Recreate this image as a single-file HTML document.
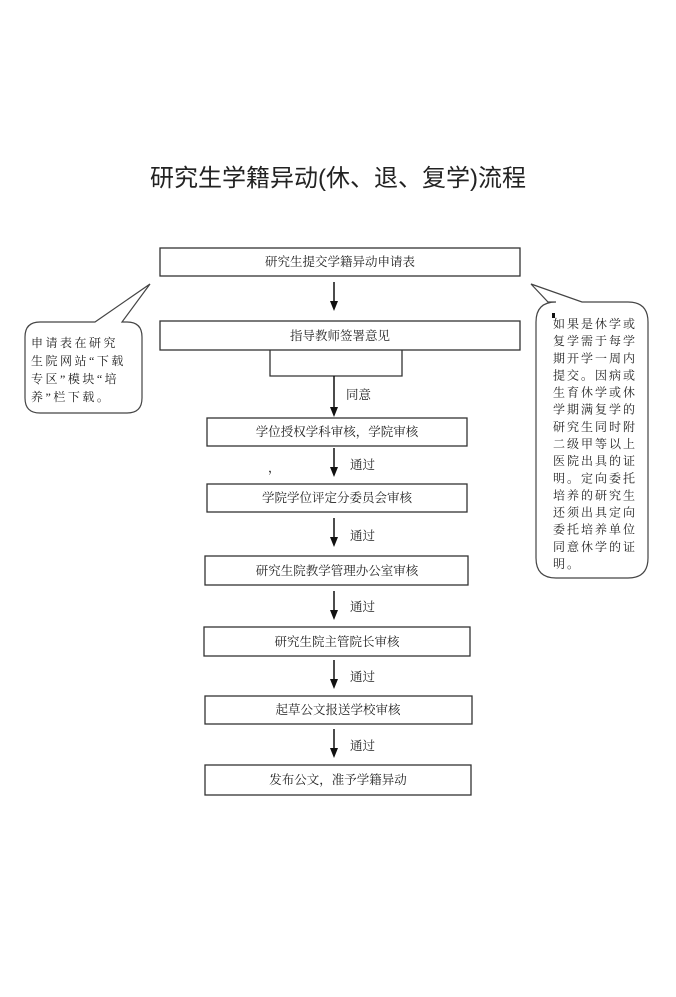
<!DOCTYPE html>
<html><head><meta charset="utf-8"><style>
html,body{margin:0;padding:0;background:#fff;}
svg text{font-family:"Liberation Serif","Noto Serif CJK SC","Noto Sans CJK SC",serif;fill:#222;}
</style></head><body>
<svg width="676" height="992" viewBox="0 0 676 992" xmlns="http://www.w3.org/2000/svg">
<text x="338" y="186" text-anchor="middle" font-size="24" style="font-family:'Liberation Sans','Noto Sans CJK SC',sans-serif" fill="#000">研究生学籍异动(休、退、复学)流程</text>
<g fill="none" stroke="#333" stroke-width="1.3">
<rect x="160" y="248" width="360" height="28"/>
<rect x="160" y="321" width="360" height="29"/>
<polyline points="270,350 270,376 402,376 402,350"/>
<rect x="207" y="418" width="260" height="28"/>
<rect x="207" y="484" width="260" height="28"/>
<rect x="205" y="556" width="263" height="29"/>
<rect x="204" y="627" width="266" height="29"/>
<rect x="205" y="696" width="267" height="28"/>
<rect x="205" y="765" width="266" height="30"/>
</g>
<g stroke="#111" stroke-width="1.5">
<line x1="334" y1="282" x2="334" y2="302"/>
<line x1="334" y1="376" x2="334" y2="408"/>
<line x1="334" y1="448" x2="334" y2="468"/>
<line x1="334" y1="518" x2="334" y2="538"/>
<line x1="334" y1="591" x2="334" y2="611"/>
<line x1="334" y1="660" x2="334" y2="680"/>
<line x1="334" y1="729" x2="334" y2="749"/>
</g>
<g fill="#111">
<path d="M330,301 L338,301 L334,311 Z"/>
<path d="M330,407 L338,407 L334,417 Z"/>
<path d="M330,467 L338,467 L334,477 Z"/>
<path d="M330,537 L338,537 L334,547 Z"/>
<path d="M330,610 L338,610 L334,620 Z"/>
<path d="M330,679 L338,679 L334,689 Z"/>
<path d="M330,748 L338,748 L334,758 Z"/>
</g>
<g font-size="12.5" text-anchor="middle">
<text x="340" y="266">研究生提交学籍异动申请表</text>
<text x="340" y="340">指导教师签署意见</text>
<text x="337" y="436">学位授权学科审核，学院审核</text>
<text x="337" y="502">学院学位评定分委员会审核</text>
<text x="337" y="575">研究生院教学管理办公室审核</text>
<text x="337" y="646">研究生院主管院长审核</text>
<text x="338" y="714">起草公文报送学校审核</text>
<text x="338" y="784">发布公文，准予学籍异动</text>
</g>
<g font-size="12.5">
<text x="346" y="399">同意</text>
<text x="350" y="469">通过</text>
<text x="350" y="540">通过</text>
<text x="350" y="611">通过</text>
<text x="350" y="681">通过</text>
<text x="350" y="750">通过</text>
<text x="268" y="472">，</text>
</g>
<g fill="#fff" stroke="#444" stroke-width="1.2">
<path d="M40,322 L95,322 L150,284 L122,322 L127,322 Q142,322 142,337 L142,398 Q142,413 127,413 L40,413 Q25,413 25,398 L25,337 Q25,322 40,322 Z"/>
<path d="M556,302 L548,302 L531,284 L582,302 L628,302 Q648,302 648,322 L648,558 Q648,578 628,578 L556,578 Q536,578 536,558 L536,322 Q536,302 556,302 Z"/>
</g>
<g font-size="12" letter-spacing="2.5">
<text x="31" y="347">申请表在研究</text>
<text x="31" y="365">生院网站“下载</text>
<text x="31" y="383">专区”模块“培</text>
<text x="31" y="401">养”栏下载。</text>
</g>
<g font-size="12" letter-spacing="2">
<text x="553" y="328">如果是休学或</text>
<text x="553" y="345.1">复学需于每学</text>
<text x="553" y="362.3">期开学一周内</text>
<text x="553" y="379.4">提交。因病或</text>
<text x="553" y="396.6">生育休学或休</text>
<text x="553" y="413.7">学期满复学的</text>
<text x="553" y="430.8">研究生同时附</text>
<text x="553" y="448">二级甲等以上</text>
<text x="553" y="465.1">医院出具的证</text>
<text x="553" y="482.3">明。定向委托</text>
<text x="553" y="499.4">培养的研究生</text>
<text x="553" y="516.5">还须出具定向</text>
<text x="553" y="533.7">委托培养单位</text>
<text x="553" y="550.8">同意休学的证</text>
<text x="553" y="568">明。</text>
</g>
<rect x="552" y="313" width="3" height="5" fill="#111"/>
</svg>
</body></html>
